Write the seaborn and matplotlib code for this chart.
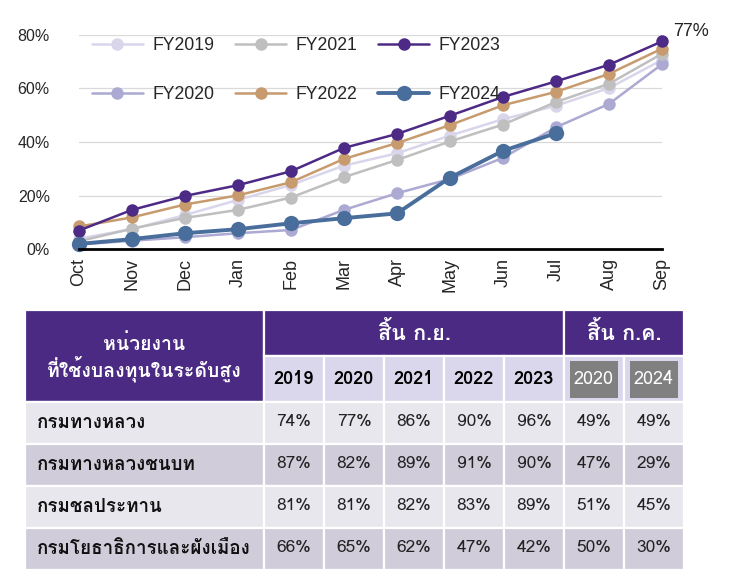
import numpy as np
import pandas as pd
import matplotlib
matplotlib.use("Agg")
import matplotlib.pyplot as plt
import seaborn as sns
from matplotlib import font_manager as fm
from matplotlib.patches import Rectangle

# ---------------- data ----------------
months = ["Oct", "Nov", "Dec", "Jan", "Feb", "Mar", "Apr", "May", "Jun", "Jul", "Aug", "Sep"]
fy2019 = [4.0, 7.5, 12.8, 18.4, 24.0, 31.2, 35.8, 42.4, 48.5, 53.5, 60.1, 70.6]
fy2020 = [1.8, 3.2, 4.5, 6.0, 7.2, 14.7, 20.9, 26.2, 34.1, 45.5, 54.2, 69.0]
fy2021 = [3.0, 7.7, 11.7, 14.7, 19.3, 26.9, 33.3, 40.2, 46.5, 54.9, 61.7, 72.9]
fy2022 = [8.5, 11.9, 16.7, 20.1, 25.0, 33.7, 39.6, 46.3, 53.7, 58.7, 65.4, 74.8]
fy2023 = [7.0, 14.7, 19.9, 23.9, 29.1, 37.8, 43.0, 49.8, 56.8, 62.6, 68.8, 77.5]
fy2024 = [2.0, 3.8, 6.0, 7.5, 9.7, 11.6, 13.4, 26.7, 36.7, 43.3]
series_names = ["FY2019", "FY2020", "FY2021", "FY2022", "FY2023", "FY2024"]
series_values = [fy2019, fy2020, fy2021, fy2022, fy2023, fy2024]
sep_label = "77%"

table_header_left = "หน่วยงาน\nที่ใช้งบลงทุนในระดับสูง"
group_labels = ["สิ้น ก.ย.", "สิ้น ก.ค."]
table_years = ["2019", "2020", "2021", "2022", "2023", "2020", "2024"]
row_labels = ["กรมทางหลวง", "กรมทางหลวงชนบท", "กรมชลประทาน", "กรมโยธาธิการและผังเมือง"]
row_values = [
    [74, 77, 86, 90, 96, 49, 49],
    [87, 82, 89, 91, 90, 47, 29],
    [81, 81, 82, 83, 89, 51, 45],
    [66, 65, 62, 47, 42, 50, 30],
]

# ---------------- fonts ----------------
def find_thai_font():
    try:
        from fontTools.ttLib import TTFont
    except Exception:
        return None
    for f in fm.fontManager.ttflist:
        try:
            tt = TTFont(f.fname, fontNumber=0, lazy=True)
            cmap = tt.getBestCmap()
            if cmap and 0x0E01 in cmap and 0x0E35 in cmap:
                return f.name
        except Exception:
            pass
    return None

sns.set_theme(style="white")
thai = find_thai_font()
thai_fam = ([thai] if thai else []) + ["DejaVu Sans"]
plt.rcParams["font.family"] = ["Liberation Sans", "DejaVu Sans"]

colors = {
    "FY2019": "#D9D6EC",
    "FY2020": "#ACA9D3",
    "FY2021": "#BFBFBF",
    "FY2022": "#C79B6E",
    "FY2023": "#4D2A85",
    "FY2024": "#4A6E9C",
}

W, H = 730, 584
fig = plt.figure(figsize=(W / 100, H / 100), dpi=100)

# ---------------- table (pixel-space axes) ----------------
axt = fig.add_axes([0, 0, 1, 1], zorder=0)
axt.set_xlim(0, W)
axt.set_ylim(H, 0)
axt.axis("off")

purple = "#4B2A84"
lav = "#DAD6EB"
light = "#E8E7EE"
dark = "#D0CCDA"
x0, xh = 25, 264
col_w = 60
y_top, y_mid, y_hdr = 310, 356, 402
row_h = 42

def cell(x, y, w, h, fc):
    axt.add_patch(Rectangle((x, y), w, h, facecolor=fc, edgecolor="white", lw=1.6))

cell(x0, y_top, xh - x0, y_hdr - y_top, purple)
cell(xh, y_top, col_w * 5, y_mid - y_top, purple)
cell(xh + col_w * 5, y_top, col_w * 2, y_mid - y_top, purple)
axt.text((x0 + xh) / 2, (y_top + y_hdr) / 2 + 2, table_header_left, color="white", fontsize=14,
         fontweight="bold", ha="center", va="center", family=thai_fam, linespacing=1.1)
axt.text(xh + col_w * 2.5, (y_top + y_mid) / 2, group_labels[0], color="white", fontsize=15.5,
         fontweight="bold", ha="center", va="center", family=thai_fam)
axt.text(xh + col_w * 6, (y_top + y_mid) / 2, group_labels[1], color="white", fontsize=15.5,
         fontweight="bold", ha="center", va="center", family=thai_fam)
for j, yr in enumerate(table_years):
    cx = xh + col_w * j
    cy = (y_mid + y_hdr) / 2
    cell(cx, y_mid, col_w, y_hdr - y_mid, lav)
    if j >= 5:
        axt.add_patch(Rectangle((cx + col_w / 2 - 24, cy - 18), 48, 37, facecolor="#808080",
                                edgecolor="none"))
        axt.text(cx + col_w / 2, cy, yr, color="white", fontsize=13,
                 ha="center", va="center", family=thai_fam)
    else:
        axt.text(cx + col_w / 2, cy, yr, color="black", fontsize=13,
                 fontweight="bold", ha="center", va="center", family=thai_fam)
for i, (lab, vals) in enumerate(zip(row_labels, row_values)):
    ry = y_hdr + row_h * i
    fc = light if i % 2 == 0 else dark
    cell(x0, ry, xh - x0, row_h, fc)
    axt.text(x0 + 12, ry + row_h / 2, lab, fontsize=13.5, fontweight="bold", color="#111111",
             ha="left", va="center", family=thai_fam)
    for j, v in enumerate(vals):
        cx = xh + col_w * j
        cell(cx, ry, col_w, row_h, fc)
        axt.text(cx + col_w / 2, ry + row_h / 2 - 1, f"{v}%", fontsize=12.5, color="#222222",
                 ha="center", va="center", family=thai_fam)

# ---------------- line chart ----------------
ax_l, ax_r = 79, 662
ax_t_px, ax_b_px = 34.7, 249.3
ax = fig.add_axes([ax_l / W, 1 - ax_b_px / H, (ax_r - ax_l) / W, (ax_b_px - ax_t_px) / H], zorder=2)
ax.patch.set_alpha(0)

x_idx = np.arange(len(months))
for name, vals in zip(series_names, series_values):
    df = pd.DataFrame({"x": x_idx[:len(vals)], "y": vals})
    big = name == "FY2024"
    sns.lineplot(data=df, x="x", y="y", ax=ax, color=colors[name], label=name,
                 marker="o", markersize=11 if big else 9, markeredgewidth=0,
                 linewidth=2.8 if big else 1.8)

ax.set_xlim(0, len(months) - 1)
ax.set_ylim(0, 80)
ax.set_xticks(x_idx)
ax.set_xticklabels(months, rotation=90, fontsize=13)
yt = [0, 20, 40, 60, 80]
ax.set_yticks(yt)
ax.set_yticklabels([f"{v}%" for v in yt], fontsize=11.5)
ax.set_xlabel("")
ax.set_ylabel("")
ax.tick_params(axis="both", length=0, pad=6)
ax.tick_params(axis="y", pad=21)
ax.yaxis.grid(True, color="#D9D9D9", lw=0.9)
ax.xaxis.grid(False)
for s in ["top", "right", "left"]:
    ax.spines[s].set_visible(False)
ax.spines["bottom"].set_color("black")
ax.spines["bottom"].set_linewidth(2)
for ln in ax.lines:
    ln.set_clip_on(False)

ax.annotate(sep_label, xy=(len(months) - 1, fy2023[-1]), xytext=(8, 7), textcoords="offset points",
            fontsize=13, ha="left", va="center", color="#222222")

leg = ax.legend(loc="upper left", bbox_to_anchor=(0.022, 0.99), ncol=3, frameon=False,
                fontsize=12.7, handlelength=2.9, handletextpad=0.55, columnspacing=1.15,
                labelspacing=1.85, borderpad=0, borderaxespad=0)

fig.savefig("out.png", dpi=100)
